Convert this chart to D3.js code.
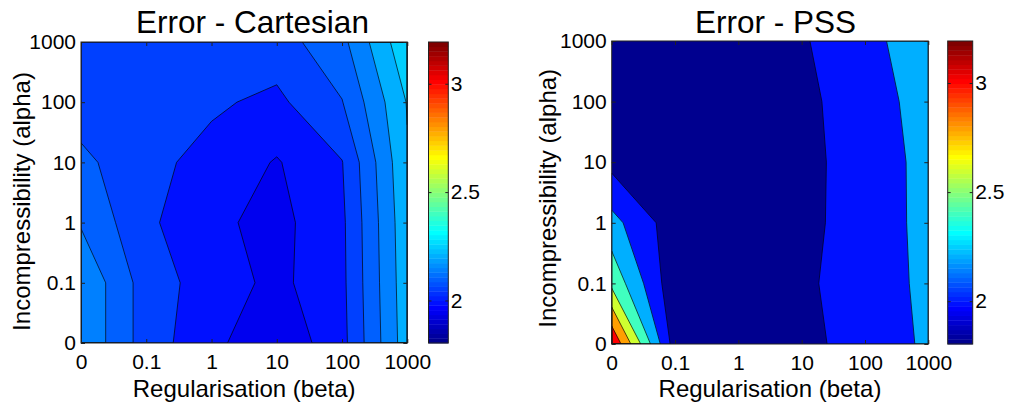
<!DOCTYPE html>
<html><head><meta charset="utf-8">
<script src="https://cdn.jsdelivr.net/npm/d3@7"></script>
<style>
body{margin:0;background:#fff}
text{font-family:"Liberation Sans",Arial,Helvetica,sans-serif;fill:#000}
</style>
</head><body>
<svg id="chart" width="1011" height="408" xmlns="http://www.w3.org/2000/svg"></svg>
<script>
// ---------- data ----------
const betaTicks  = ["0","0.1","1","10","100","1000"];   // x categories (Regularisation)
const alphaTicks = ["0","0.1","1","10","100","1000"];   // y categories (Incompressibility)
// rows: alpha = 0 ... 1000 ; columns: beta = 0 ... 1000
const errCartesian = [
  [2.195, 2.076, 2.013, 1.960, 2.034, 2.229],
  [2.195, 2.076, 2.026, 1.987, 2.038, 2.233],
  [2.145, 2.060, 2.011, 1.984, 2.040, 2.237],
  [2.113, 2.063, 2.035, 1.996, 2.048, 2.245],
  [2.073, 2.065, 2.057, 2.039, 2.098, 2.253],
  [2.075, 2.070, 2.070, 2.077, 2.136, 2.290]
];
const errPSS = [
  [3.190, 1.900, 1.810, 1.933, 2.100, 2.227],
  [2.550, 1.855, 1.830, 1.963, 2.100, 2.243],
  [2.269, 1.886, 1.840, 1.940, 2.100, 2.252],
  [1.941, 1.870, 1.850, 1.936, 2.100, 2.254],
  [1.950, 1.880, 1.860, 1.953, 2.100, 2.285],
  [1.940, 1.890, 1.870, 1.982, 2.120, 2.355]
];
const levelsCartesian = [1.95, 2.0, 2.05, 2.1, 2.15, 2.2, 2.25];
const levelsPSS       = [1.8, 2.0, 2.2, 2.4, 2.6, 2.8, 3.0];
const colorTicks = [2, 2.5, 3];
const colorRange = [1.806, 3.195];

// ---------- MATLAB jet(64) ----------
function jet(m){
  const n = Math.ceil(m/4), u = [];
  for (let i=1;i<=n;i++) u.push(i/n);
  for (let i=0;i<n-1;i++) u.push(1);
  for (let i=n;i>=1;i--) u.push(i/n);
  const g0 = Math.ceil(n/2) - (m%4===1?1:0);
  const R = new Array(m).fill(0), G = new Array(m).fill(0), B = new Array(m).fill(0);
  u.forEach((v,k)=>{
    const gi = g0 + k + 1, ri = gi + n, bi = gi - n;
    if (gi>=1 && gi<=m) G[gi-1]=v;
    if (ri>=1 && ri<=m) R[ri-1]=v;
    if (bi>=1 && bi<=m) B[bi-1]=v;
  });
  return d3.range(m).map(i=>d3.rgb(Math.round(R[i]*255),Math.round(G[i]*255),Math.round(B[i]*255)).formatHex());
}
const jet64 = jet(64);
const color = d3.scaleQuantize().domain(colorRange).range(jet64);

const svg = d3.select("#chart");
const FONT_TICK = 21;

function panel(cfg){
  const {id, data, levels, x0, x1, y0, y1, title, titleX, titleY, ylabX, ylabY, cbX0, cbX1} = cfg;
  const n = data[0].length, m = data.length;
  const xs = d3.scaleLinear().domain([0, n-1]).range([x0, x1]);
  const ys = d3.scaleLinear().domain([0, m-1]).range([y1, y0]);
  const g = svg.append("g");

  g.append("clipPath").attr("id", "clip"+id).append("rect")
    .attr("x", x0).attr("y", y0).attr("width", x1-x0).attr("height", y1-y0);

  const px = x => xs(Math.max(0, Math.min(n-1, x-0.5)));
  const py = y => ys(Math.max(0, Math.min(m-1, y-0.5)));
  const path = d3.geoPath(d3.geoTransform({point(x,y){ this.stream.point(px(x), py(y)); }}));

  const flat = data.flat();
  const cont = d3.contours().size([n, m]).thresholds(levels.slice(1))(flat);

  const f = g.append("g").attr("clip-path", `url(#clip${id})`);
  f.append("rect").attr("x", x0).attr("y", y0).attr("width", x1-x0).attr("height", y1-y0)
    .attr("fill", color(levels[0]));
  f.selectAll("path.fill").data(cont).join("path").attr("class","fill")
    .attr("d", path).attr("fill", d => color(d.value)).attr("stroke", d => color(d.value)).attr("stroke-width", 0.3);
  f.selectAll("path.line").data(cont).join("path").attr("class","line")
    .attr("d", path).attr("fill", "none").attr("stroke", "#000").attr("stroke-width", 0.8)
    .attr("stroke-opacity", 0.85).attr("stroke-linejoin","round");

  // axes (ticks inward on all sides)
  const tv = d3.range(n);
  const styleAx = sel => {
    sel.select(".domain").remove();
    sel.selectAll(".tick line").attr("stroke", "#222").attr("stroke-width", 1);
    sel.selectAll(".tick text").attr("font-size", FONT_TICK).attr("font-family", '"Liberation Sans",Arial,sans-serif').attr("fill","#000");
  };
  g.append("g").attr("transform", `translate(0,${y1})`)
    .call(d3.axisBottom(xs).tickValues(tv).tickFormat(i => betaTicks[i]).tickSizeInner(-4).tickSizeOuter(0).tickPadding(10.6))
    .call(styleAx);
  g.append("g").attr("transform", `translate(0,${y0})`)
    .call(d3.axisTop(xs).tickValues(tv).tickFormat(() => "").tickSizeInner(-4).tickSizeOuter(0))
    .call(styleAx);
  g.append("g").attr("transform", `translate(${x0},0)`)
    .call(d3.axisLeft(ys).tickValues(d3.range(m)).tickFormat(i => alphaTicks[i]).tickSizeInner(-4).tickSizeOuter(0).tickPadding(5))
    .call(styleAx);
  g.append("g").attr("transform", `translate(${x1},0)`)
    .call(d3.axisRight(ys).tickValues(d3.range(m)).tickFormat(() => "").tickSizeInner(-4).tickSizeOuter(0))
    .call(styleAx);

  g.append("rect").attr("x", x0).attr("y", y0).attr("width", x1-x0).attr("height", y1-y0)
    .attr("fill", "none").attr("stroke", "#222").attr("stroke-width", 1);

  // titles and labels
  g.append("text").attr("x", titleX).attr("y", titleY).attr("text-anchor", "middle")
    .attr("font-size", 31.5).text(title);
  g.append("text").attr("x", (x0+x1)/2).attr("y", 397).attr("text-anchor", "middle")
    .attr("font-size", 24).text("Regularisation (beta)");
  g.append("text").attr("transform", `translate(${ylabX},${ylabY}) rotate(-90)`)
    .attr("text-anchor", "middle").attr("font-size", 24).text("Incompressibility (alpha)");

  // colorbar
  const cs = d3.scaleLinear().domain(colorRange).range([y1, y0]);
  const step = (colorRange[1]-colorRange[0]) / jet64.length;
  const cb = g.append("g");
  cb.selectAll("rect.c").data(d3.range(jet64.length)).join("rect").attr("class","c")
    .attr("x", cbX0).attr("width", cbX1-cbX0)
    .attr("y", i => cs(colorRange[0] + (i+1)*step))
    .attr("height", i => cs(colorRange[0] + i*step) - cs(colorRange[0] + (i+1)*step) + 0.4)
    .attr("fill", i => jet64[i]);
  cb.append("rect").attr("x", cbX0).attr("y", y0).attr("width", cbX1-cbX0).attr("height", y1-y0)
    .attr("fill", "none").attr("stroke", "#222").attr("stroke-width", 1);
  colorTicks.forEach(t => {
    cb.append("line").attr("x1", cbX0).attr("x2", cbX0+3).attr("y1", cs(t)).attr("y2", cs(t)).attr("stroke", "#222");
    cb.append("line").attr("x1", cbX1-3).attr("x2", cbX1).attr("y1", cs(t)).attr("y2", cs(t)).attr("stroke", "#222");
    cb.append("text").attr("x", cbX1 + 2.5).attr("y", cs(t)).attr("dy", "0.32em")
      .attr("font-size", FONT_TICK).text(String(t));
  });
}

panel({id:"A", data: errCartesian, levels: levelsCartesian,
  x0: 81, x1: 407.3, y0: 42, y1: 343,
  title: "Error - Cartesian", titleX: 252.5, titleY: 33.3,
  ylabX: 30, ylabY: 201.5, cbX0: 428.5, cbX1: 448.3});

panel({id:"B", data: errPSS, levels: levelsPSS,
  x0: 611.7, x1: 928.3, y0: 41, y1: 344,
  title: "Error - PSS", titleX: 775.5, titleY: 32.5,
  ylabX: 556, ylabY: 198.3, cbX0: 947.7, cbX1: 972.7});
</script>
</body></html>
